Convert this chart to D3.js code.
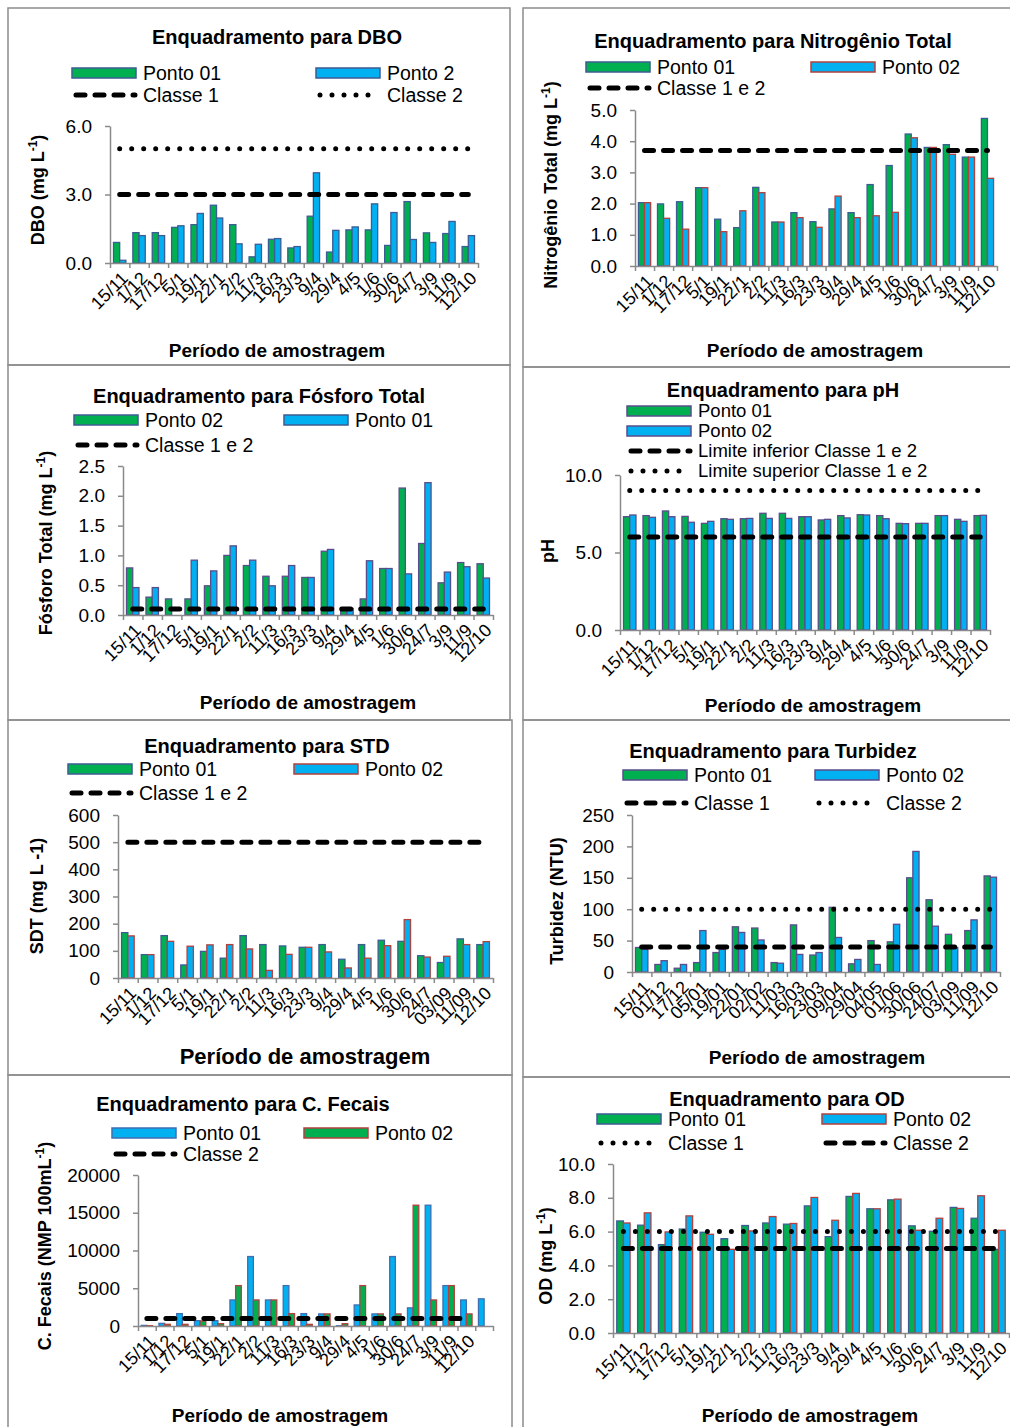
<!DOCTYPE html>
<html>
<head>
<meta charset="utf-8">
<script src="https://cdn.jsdelivr.net/npm/d3@7"></script>
<style>
body { margin: 0; background: #fff; }
svg { font-family: "Liberation Sans", Arial, sans-serif; }
</style>
</head>
<body>
<svg id="fig" width="1010" height="1427"></svg>
<script>
// categories (sampling dates)
var cats = ["15/11","1/12","17/12","5/1","19/1","22/1","2/2","11/3","16/3","23/3","9/4","29/4","4/5","1/6","30/6","24/7","3/9","11/9","12/10"];
var catsSdt = ["15/11","1/12","17/12","5/1","19/1","22/1","2/2","11/3","16/3","23/3","9/4","29/4","4/5","1/6","30/6","24/7","03/09","11/09","12/10"];
var catsTurb = ["15/11","01/12","17/12","05/01","19/01","22/01","02/02","11/03","16/03","23/03","09/04","29/04","04/05","01/06","30/06","24/07","03/09","11/09","12/10"];
var catsFec = ["15/11","1/12","17/12","5/1","19/1","22/1","2/2","11/3","16/3","23/3","9/4","29/4","4/5","1/6","30/6","24/7","3/9","11/9","12/10",""];

// series values
var dboP1 = [0.9,1.33,1.33,1.56,1.68,2.53,1.68,0.27,1.04,0.66,2.05,0.48,1.45,1.45,0.77,2.69,1.32,1.29,0.72];
var dboP2 = [0.12,1.2,1.2,1.63,2.17,1.97,0.84,0.82,1.07,0.72,3.95,1.43,1.58,2.59,2.21,1.03,0.9,1.82,1.2];
var ntP1 = [2.03,1.99,2.06,2.51,1.5,1.23,2.52,1.41,1.71,1.42,1.83,1.71,2.61,3.22,4.23,3.8,3.89,3.49,4.73];
var ntP2 = [2.03,1.53,1.18,2.51,1.1,1.77,2.35,1.41,1.55,1.24,2.24,1.55,1.61,1.72,4.11,3.8,3.58,3.49,2.81];
var ftP02 = [0.79,0.3,0.27,0.27,0.49,1.0,0.83,0.65,0.65,0.63,1.07,0.11,0.27,0.78,2.13,1.2,0.54,0.88,0.86];
var ftP01 = [0.46,0.46,0,0.92,0.74,1.16,0.92,0.49,0.83,0.63,1.1,0.11,0.91,0.78,0.69,2.22,0.72,0.81,0.62];
var phP1 = [7.31,7.38,7.68,7.33,6.88,7.18,7.18,7.53,7.53,7.31,7.1,7.38,7.44,7.38,6.88,6.88,7.38,7.14,7.38];
var phP2 = [7.42,7.27,7.31,6.95,7.01,7.14,7.2,7.2,7.2,7.31,7.14,7.23,7.42,7.18,6.86,6.88,7.38,7.01,7.4];
var sdtP1 = [167,86,156,48,98,73,156,123,118,113,123,69,123,139,135,82,57,144,123];
var sdtP2 = [155,86,135,117,122,123,107,28,87,113,96,37,73,119,215,77,80,123,134];
var turbP1 = [39,12,6,15,31,72,70,15,75,27,103,13,50,48,150,115,60,66,153];
var turbP2 = [36,18,12,66,36,63,51,14,28,31,55,20,12,76,192,73,39,83,151];
var fecP1 = [80,350,1640,710,710,3450,9200,3450,5350,1640,1600,30,2790,1600,9200,2400,16000,5350,3450,3600];
var fecP2 = [40,220,220,660,310,5350,3450,3450,1640,220,1600,310,5350,1600,1600,16000,3450,5350,1600,0];
var odP1 = [6.63,6.38,5.23,6.15,5.96,5.58,6.36,6.51,6.44,7.52,5.7,8.08,7.35,7.88,6.34,6.02,7.43,6.79,4.95];
var odP2 = [6.51,7.11,5.98,6.93,5.84,4.95,6.04,6.89,6.48,8.02,6.67,8.26,7.35,7.92,6.08,6.79,7.37,8.12,6.08];

// class limits
var dboLim = [3, 5];
var ntLim = [3.7];
var ftLim = [0.1];
var phLim = [6, 9];
var sdtLim = [500];
var turbLim = [40, 100];
var fecLim = [1000];
var odLim = [6, 5];

var GREEN = "#00B050", BLUE = "#00B0F0", NAVY = "#3D5C93", RED = "#B3413E", PURP = "#5A4D8C";
var FONT = "'Liberation Sans', Arial, sans-serif";

var svg = d3.select("#fig");

function lineStyle(sel, kind) {
  sel.attr("stroke", "#000").attr("stroke-width", 5).attr("stroke-linecap", "round")
     .attr("stroke-dasharray", kind == "dash" ? "9,10" : "0,12");
}

function panel(c) {
  var g = svg.append("g");
  g.append("rect")
    .attr("x", c.box[0]).attr("y", c.box[1])
    .attr("width", c.box[2] - c.box[0]).attr("height", c.box[3] - c.box[1])
    .attr("fill", "none").attr("stroke", "#8c8c8c").attr("stroke-width", 1.5);

  g.append("text").attr("x", c.title[1]).attr("y", c.title[2])
    .attr("text-anchor", "middle").attr("font-weight", "bold").attr("font-size", 20)
    .text(c.title[0]);

  c.legend.forEach(function(l) {
    if (l.kind == "bar") {
      g.append("rect").attr("x", l.x).attr("y", l.y - 5).attr("width", 64).attr("height", 10)
        .attr("fill", l.fill).attr("stroke", l.stroke).attr("stroke-width", 1.5);
    } else {
      g.append("line").attr("x1", l.x + 4).attr("x2", l.x + 63)
        .attr("y1", l.y).attr("y2", l.y).call(lineStyle, l.kind);
    }
    g.append("text").attr("x", l.x + 71).attr("y", l.y).attr("dy", "0.35em")
      .attr("font-size", c.legendSize || 19.5).text(l.label);
  });

  var n = c.cats.length;
  var x = d3.scaleBand().domain(d3.range(n)).range(c.px).paddingInner(0.36).paddingOuter(0.18);
  var xs = d3.scaleBand().domain(d3.range(c.series.length)).range([0, x.bandwidth()]);
  var xl = d3.scaleLinear().domain([0, n]).range(c.px);
  var y = d3.scaleLinear().domain([0, c.ymax]).range([c.py[1], c.py[0]]);

  c.series.forEach(function(s, si) {
    g.append("g").selectAll("rect").data(s.values).join("rect")
      .attr("x", function(d, i) { return x(i) + xs(si); })
      .attr("y", function(d) { return y(d); })
      .attr("width", xs.bandwidth())
      .attr("height", function(d) { return y(0) - y(d); })
      .attr("fill", s.fill).attr("stroke", s.stroke).attr("stroke-width", 1.3);
  });

  var ya = g.append("g").attr("transform", "translate(" + c.px[0] + ",0)")
    .call(d3.axisLeft(y).tickValues(d3.range(0, c.ymax + c.ystep / 2, c.ystep))
      .tickFormat(d3.format(c.fmt)).tickSize(5).tickSizeOuter(0).tickPadding(13));
  ya.attr("font-size", 19).attr("font-family", FONT);
  ya.selectAll("text").attr("fill", "#000");

  var xa = g.append("g").attr("transform", "translate(0," + c.py[1] + ")")
    .call(d3.axisBottom(xl).tickValues(d3.range(n + 1)).tickFormat("").tickSize(5).tickSizeOuter(0));
  g.selectAll(".domain, .tick line").attr("stroke", "#8a8a8a").attr("stroke-width", 1.5);

  g.append("g").selectAll("text").data(c.cats).join("text")
    .attr("transform", function(d, i) {
      return "translate(" + (x(i) + x.bandwidth() / 2 + 5) + "," + (c.py[1] + 12) + ") rotate(-45)";
    })
    .attr("text-anchor", "end").attr("dy", "0.35em").attr("font-size", 18)
    .text(function(d) { return d; });

  c.lines.forEach(function(l) {
    var m = l.n || n;
    g.append("line")
      .attr("x1", x(0) + x.bandwidth() / 2).attr("x2", x(m - 1) + x.bandwidth() / 2)
      .attr("y1", y(l.v)).attr("y2", y(l.v)).call(lineStyle, l.kind);
  });

  var yl = g.append("text").attr("transform", "translate(" + c.ylab[1] + "," + c.ylab[2] + ") rotate(-90)")
    .attr("text-anchor", "middle").attr("font-weight", "bold").attr("font-size", 18);
  c.ylab[0].forEach(function(p) {
    var t = yl.append("tspan").text(p[0]);
    if (p[1]) t.attr("font-size", 12).attr("baseline-shift", "super");
  });

  g.append("text").attr("x", c.xlab[0]).attr("y", c.xlab[1])
    .attr("text-anchor", "middle").attr("font-weight", "bold").attr("font-size", c.xlab[3] || 19)
    .text(c.xlab[2]);
}

// DBO
panel({
  box: [8, 8, 510, 365], title: ["Enquadramento para DBO", 277, 44],
  legend: [
    {kind: "bar", x: 72, y: 73, fill: GREEN, stroke: NAVY, label: "Ponto 01"},
    {kind: "bar", x: 316, y: 73, fill: BLUE, stroke: NAVY, label: "Ponto 2"},
    {kind: "dash", x: 72, y: 95, label: "Classe 1"},
    {kind: "dot", x: 316, y: 95, label: "Classe 2"}
  ],
  cats: cats, px: [110, 478], py: [126, 263], ymax: 6, ystep: 3, fmt: ".1f",
  series: [{values: dboP1, fill: GREEN, stroke: NAVY}, {values: dboP2, fill: BLUE, stroke: NAVY}],
  lines: [{v: dboLim[0], kind: "dash"}, {v: dboLim[1], kind: "dot"}],
  ylab: [[["DBO (mg L", 0], ["-1", 1], [")", 0]], 44, 190],
  xlab: [277, 357, "Período de amostragem"]
});

// Nitrogenio total
panel({
  box: [523, 8, 1015, 367], title: ["Enquadramento para Nitrogênio Total", 773, 48],
  legend: [
    {kind: "bar", x: 586, y: 67, fill: GREEN, stroke: NAVY, label: "Ponto 01"},
    {kind: "bar", x: 811, y: 67, fill: BLUE, stroke: RED, label: "Ponto 02"},
    {kind: "dash", x: 586, y: 88, label: "Classe 1 e 2"}
  ],
  cats: cats, px: [635, 997], py: [110, 266], ymax: 5, ystep: 1, fmt: ".1f",
  series: [{values: ntP1, fill: GREEN, stroke: NAVY}, {values: ntP2, fill: BLUE, stroke: RED}],
  lines: [{v: ntLim[0], kind: "dash"}],
  ylab: [[["Nitrogênio Total (mg L", 0], ["-1", 1], [")", 0]], 557, 185],
  xlab: [815, 357, "Período de amostragem"]
});

// Fosforo total
panel({
  box: [8, 365, 510, 720], title: ["Enquadramento para Fósforo Total", 259, 403],
  legend: [
    {kind: "bar", x: 74, y: 420, fill: GREEN, stroke: NAVY, label: "Ponto 02"},
    {kind: "bar", x: 284, y: 420, fill: BLUE, stroke: NAVY, label: "Ponto 01"},
    {kind: "dash", x: 74, y: 445, label: "Classe 1 e 2"}
  ],
  cats: cats, px: [123, 493], py: [466, 615], ymax: 2.5, ystep: 0.5, fmt: ".1f",
  series: [{values: ftP02, fill: GREEN, stroke: PURP}, {values: ftP01, fill: BLUE, stroke: PURP}],
  lines: [{v: ftLim[0], kind: "dash"}],
  ylab: [[["Fósforo Total (mg L", 0], ["-1", 1], [")", 0]], 52, 543],
  xlab: [308, 709, "Período de amostragem"]
});

// pH
panel({
  box: [523, 367, 1015, 720], title: ["Enquadramento para pH", 783, 397],
  legendSize: 18.5,
  legend: [
    {kind: "bar", x: 627, y: 411, fill: GREEN, stroke: PURP, label: "Ponto 01"},
    {kind: "bar", x: 627, y: 431, fill: BLUE, stroke: PURP, label: "Ponto 02"},
    {kind: "dash", x: 627, y: 451, label: "Limite inferior Classe 1 e 2"},
    {kind: "dot", x: 627, y: 471, label: "Limite superior Classe 1 e 2"}
  ],
  cats: cats, px: [620, 990], py: [475, 630], ymax: 10, ystep: 5, fmt: ".1f",
  series: [{values: phP1, fill: GREEN, stroke: PURP}, {values: phP2, fill: BLUE, stroke: PURP}],
  lines: [{v: phLim[0], kind: "dash"}, {v: phLim[1], kind: "dot"}],
  ylab: [[["pH", 0]], 554, 551],
  xlab: [813, 712, "Período  de amostragem"]
});

// STD
panel({
  box: [8, 720, 512, 1075], title: ["Enquadramento para STD", 267, 753],
  legend: [
    {kind: "bar", x: 68, y: 769, fill: GREEN, stroke: NAVY, label: "Ponto 01"},
    {kind: "bar", x: 294, y: 769, fill: BLUE, stroke: RED, label: "Ponto 02"},
    {kind: "dash", x: 68, y: 793, label: "Classe 1 e 2"}
  ],
  cats: catsSdt, px: [118, 493], py: [815, 978], ymax: 600, ystep: 100, fmt: "d",
  series: [{values: sdtP1, fill: GREEN, stroke: NAVY}, {values: sdtP2, fill: BLUE, stroke: RED}],
  lines: [{v: sdtLim[0], kind: "dash"}],
  ylab: [[["SDT (mg L -1)", 0]], 43, 896],
  xlab: [305, 1064, "Período de amostragem", 22]
});

// Turbidez
panel({
  box: [523, 720, 1015, 1077], title: ["Enquadramento para Turbidez", 773, 758],
  legend: [
    {kind: "bar", x: 623, y: 775, fill: GREEN, stroke: PURP, label: "Ponto 01"},
    {kind: "bar", x: 815, y: 775, fill: BLUE, stroke: PURP, label: "Ponto 02"},
    {kind: "dash", x: 623, y: 803, label: "Classe 1"},
    {kind: "dot", x: 815, y: 803, label: "Classe 2"}
  ],
  cats: catsTurb, px: [632, 1000], py: [815, 972], ymax: 250, ystep: 50, fmt: "d",
  series: [{values: turbP1, fill: GREEN, stroke: PURP}, {values: turbP2, fill: BLUE, stroke: PURP}],
  lines: [{v: turbLim[0], kind: "dash"}, {v: turbLim[1], kind: "dot"}],
  ylab: [[["Turbidez (NTU)", 0]], 563, 901],
  xlab: [817, 1064, "Período de amostragem"]
});

// Coliformes fecais
panel({
  box: [8, 1075, 512, 1432], title: ["Enquadramento para C. Fecais", 243, 1111],
  legend: [
    {kind: "bar", x: 112, y: 1133, fill: BLUE, stroke: "#3F6FB0", label: "Ponto 01"},
    {kind: "bar", x: 304, y: 1133, fill: GREEN, stroke: RED, label: "Ponto 02"},
    {kind: "dash", x: 112, y: 1154, label: "Classe 2"}
  ],
  cats: catsFec, px: [138, 493], py: [1175, 1326], ymax: 20000, ystep: 5000, fmt: "d",
  series: [{values: fecP1, fill: BLUE, stroke: "#3F6FB0"}, {values: fecP2, fill: GREEN, stroke: RED}],
  lines: [{v: fecLim[0], kind: "dash", n: 19}],
  ylab: [[["C. Fecais (NMP 100mL", 0], ["-1", 1], [")", 0]], 51, 1246],
  xlab: [280, 1422, "Período de amostragem"]
});

// OD
panel({
  box: [523, 1077, 1015, 1432], title: ["Enquadramento para OD", 787, 1106],
  legend: [
    {kind: "bar", x: 597, y: 1119, fill: GREEN, stroke: NAVY, label: "Ponto 01"},
    {kind: "bar", x: 822, y: 1119, fill: BLUE, stroke: RED, label: "Ponto 02"},
    {kind: "dot", x: 597, y: 1143, label: "Classe 1"},
    {kind: "dash", x: 822, y: 1143, label: "Classe 2"}
  ],
  cats: cats, px: [613, 1009], py: [1164, 1333], ymax: 10, ystep: 2, fmt: ".1f",
  series: [{values: odP1, fill: GREEN, stroke: NAVY}, {values: odP2, fill: BLUE, stroke: RED}],
  lines: [{v: odLim[0], kind: "dot"}, {v: odLim[1], kind: "dash"}],
  ylab: [[["OD  (mg L", 0], ["-1", 1], [")", 0]], 552, 1256],
  xlab: [810, 1422, "Período de amostragem"]
});
</script>
</body>
</html>
